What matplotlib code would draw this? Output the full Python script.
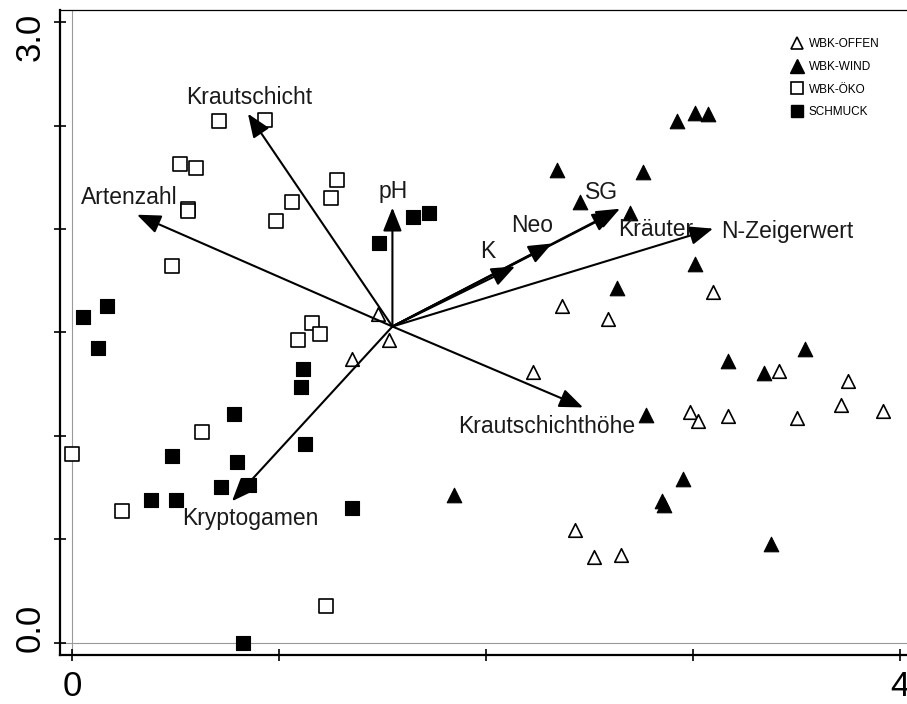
import numpy as np
import matplotlib
matplotlib.use("Agg")
import matplotlib.pyplot as plt
import matplotlib.transforms as mtransforms
from matplotlib.lines import Line2D

plt.rcParams['font.family'] = ['Liberation Sans', 'DejaVu Sans']

# %% Daten (Ordinationswerte der Aufnahmen)

# WBK-OFFEN (offene Dreiecke)
offen_x = [1.478, 1.531, 1.353, 2.367, 2.589, 3.097, 2.227, 3.415, 3.749,
           3.715, 3.918, 2.986, 3.024, 3.169, 3.502, 2.430, 2.522, 2.652]
offen_y = [1.587, 1.462, 1.370, 1.630, 1.563, 1.698, 1.307, 1.312, 1.264,
           1.148, 1.119, 1.114, 1.071, 1.095, 1.085, 0.545, 0.415, 0.425]

# WBK-WIND (gefuellte Dreiecke)
wind_x = [2.923, 3.010, 3.072, 2.343, 2.758, 2.454, 2.696, 3.010, 2.633,
          3.541, 3.169, 3.343, 2.773, 2.952, 2.850, 2.860, 1.845, 3.377]
wind_y = [2.523, 2.562, 2.557, 2.287, 2.277, 2.132, 2.079, 1.833, 1.717,
          1.418, 1.360, 1.302, 1.100, 0.791, 0.685, 0.666, 0.714, 0.478]

# WBK-ÖKO (offene Quadrate)
oeko_x = [0.710, 0.932, 0.522, 0.599, 0.560, 0.560, 1.280, 1.251, 1.063,
          0.986, 0.483, 1.159, 1.092, 1.198, 0.628, 0.000, 0.242, 1.227]
oeko_y = [2.523, 2.528, 2.315, 2.296, 2.098, 2.088, 2.238, 2.151, 2.132,
          2.041, 1.819, 1.544, 1.466, 1.491, 1.018, 0.912, 0.637, 0.178]

# SCHMUCK (gefuellte Quadrate)
schmuck_x = [1.647, 1.725, 1.483, 0.169, 0.053, 0.126, 1.116, 1.106, 0.783,
             1.126, 0.483, 0.797, 0.720, 0.855, 0.382, 0.502, 1.353, 0.826]
schmuck_y = [2.060, 2.079, 1.930, 1.630, 1.573, 1.423, 1.322, 1.235, 1.105,
             0.960, 0.902, 0.873, 0.753, 0.762, 0.690, 0.690, 0.651, 0.000]

# %% Umweltvariablen (Pfeile)
ursprung = (1.548, 1.529)
var_namen = ["Krautschicht", "Artenzahl", "pH", "K", "Neo", "SG", "Kräuter",
             "N-Zeigerwert", "Krautschichthöhe", "Kryptogamen"]
var_x = [0.850, 0.314, 1.548, 2.140, 2.319, 2.647, 2.628, 3.097, 2.469, 0.773]
var_y = [2.557, 2.069, 2.103, 1.819, 1.930, 2.098, 2.084, 2.002, 1.138, 0.685]
label_x = [0.855, 0.275, 1.551, 2.010, 2.222, 2.556, 2.821, 3.454, 2.295, 0.860]
label_y = [2.634, 2.151, 2.180, 1.891, 2.016, 2.176, 1.997, 1.987, 1.047, 0.603]

# %% Plot
fig = plt.figure(figsize=(9.07, 7.04), dpi=100)
ax = fig.add_axes([60/907, 49/704, 847/907, 645/704])

ax.axvline(0, color="#9a9a9a", lw=0.8, zorder=0)
ax.axhline(0, color="#9a9a9a", lw=0.8, zorder=0)

ax.scatter(offen_x, offen_y, marker="^", s=95, facecolor="white",
           edgecolor="black", linewidth=1.2, zorder=3)
ax.scatter(wind_x, wind_y, marker="^", s=110, facecolor="black",
           edgecolor="black", linewidth=0.8, zorder=3)
ax.scatter(oeko_x, oeko_y, marker="s", s=88, facecolor="white",
           edgecolor="black", linewidth=1.2, zorder=3)
ax.scatter(schmuck_x, schmuck_y, marker="s", s=100, facecolor="black",
           edgecolor="black", linewidth=0.8, zorder=3)

for i in range(len(var_namen)):
    ax.annotate("", xy=(var_x[i], var_y[i]), xytext=ursprung,
                arrowprops=dict(arrowstyle="-|>,head_length=0.9,head_width=0.36",
                                mutation_scale=16, lw=1.5, color="black",
                                shrinkA=0, shrinkB=0), zorder=4)
    ax.text(label_x[i], label_y[i], var_namen[i],
            fontsize=16.5, ha="center", va="center", color="#1a1a1a", zorder=5)

# Legende
handles = [
    Line2D([], [], ls="", marker="^", ms=9, mfc="white", mec="black", mew=1.2),
    Line2D([], [], ls="", marker="^", ms=9.5, mfc="black", mec="black"),
    Line2D([], [], ls="", marker="s", ms=8.5, mfc="white", mec="black", mew=1.2),
    Line2D([], [], ls="", marker="s", ms=9, mfc="black", mec="black"),
]
ax.legend(handles, ["WBK-OFFEN", "WBK-WIND", "WBK-ÖKO", "SCHMUCK"],
          loc="upper left", bbox_to_anchor=(0.863, 0.956), frameon=False,
          fontsize=8.5, handlelength=1.0, handletextpad=0.5,
          labelspacing=0.9, borderpad=0, borderaxespad=0)

ax.set_xlim(-0.058, 4.034)
ax.set_ylim(-0.058, 3.058)
ax.set_xticks([0, 1, 2, 3, 4])
ax.set_xticklabels(["0", "", "", "", "4"], fontsize=25)
ax.set_yticks([0, 0.5, 1.0, 1.5, 2.0, 2.5, 3.0])
ax.set_yticklabels(["0.0", "", "", "", "", "", "3.0"], fontsize=25,
                   rotation=90, va="center")
ax.tick_params(direction="inout", length=9, width=1.2)
ax.tick_params(axis="x", pad=6)
ax.tick_params(axis="y", pad=5)

# y-Beschriftungen nach innen schieben wie im Original
ylabs = ax.get_yticklabels()
ylabs[0].set_transform(ylabs[0].get_transform() +
                       mtransforms.ScaledTranslation(0, 11/72, fig.dpi_scale_trans))
ylabs[-1].set_transform(ylabs[-1].get_transform() +
                        mtransforms.ScaledTranslation(0, -11/72, fig.dpi_scale_trans))

ax.spines["left"].set_linewidth(1.6)
ax.spines["bottom"].set_linewidth(1.6)
ax.spines["top"].set_linewidth(0.9)
ax.spines["right"].set_visible(False)

fig.savefig("out.png", dpi=100)
